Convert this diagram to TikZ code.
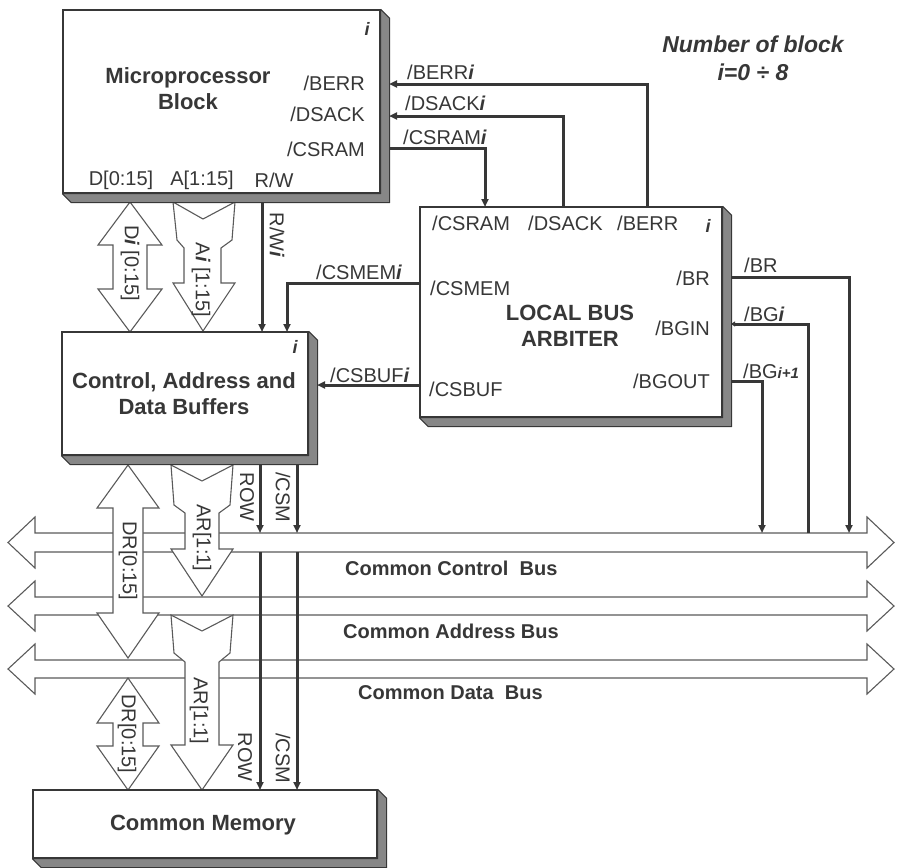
\documentclass[tikz,border=0pt]{standalone}
\usepackage{fontspec}
\setmainfont{Liberation Sans}
\usetikzlibrary{arrows.meta, calc}
\definecolor{cInk}{RGB}{55,55,55}
\definecolor{cBus}{RGB}{90,90,90}
\definecolor{cSlab}{RGB}{135,135,135}
\tikzset{
	blk/.style    ={rectangle, draw=cInk, line width=1.4pt, fill=white, inner sep=0pt},
	slab/.style   ={fill=cSlab, draw=cInk, line width=1pt, line join=bevel},
	title/.style  ={font=\fontsize{22}{26}\selectfont\bfseries, text=cInk, align=center, inner sep=0pt},
	pin/.style    ={font=\fontsize{20}{22}\selectfont, text=cInk, inner sep=0pt},
	idx/.style    ={font=\fontsize{18}{18}\selectfont\bfseries\itshape, text=cInk, inner sep=0pt},
	buslbl/.style ={font=\fontsize{20}{22}\selectfont\bfseries, text=cInk, anchor=west, inner sep=0pt},
	sig/.style    ={draw=cInk, line width=3pt, -{Triangle[length=8pt,width=7pt]}},
	sigin/.style  ={draw=cInk, line width=3pt, -{Triangle[length=4pt,width=5pt]}},
	hollow/.style ={draw=cBus, line width=1.1pt, fill=white, line join=miter},
}
\newcommand{\ii}{{\bfseries\itshape i}}

\begin{document}
\begin{tikzpicture}[x=1pt, y=-1pt]
	\useasboundingbox (0,0) rectangle (898,868);
	% common buses
	\draw[hollow] (8,542.5) -- (35,517) -- (35,533) -- (867,533) -- (867,517) -- (894,542.5) -- (867,568) -- (867,552) -- (35,552) -- (35,568) -- cycle;
	\draw[hollow] (8,606) -- (35,581) -- (35,597) -- (867,597) -- (867,581) -- (894,606) -- (867,631) -- (867,615) -- (35,615) -- (35,631) -- cycle;
	\draw[hollow] (8,669) -- (35,644) -- (35,660) -- (867,660) -- (867,644) -- (894,669) -- (867,694) -- (867,678) -- (35,678) -- (35,694) -- cycle;
	\node[buslbl] (lblctl) at (345,568) {Common Control\ \ Bus};
	\node[buslbl] (lbladr) at (343,631) {Common Address Bus};
	\node[buslbl] (lbldat) at (358,693) {Common Data\ \ Bus};
	% data and address arrows
	\draw[hollow] (130,202) -- (162,245) -- (147,245) -- (147,289) -- (162,289) -- (130,332) -- (98,289) -- (113,289) -- (113,245) -- (98,245) -- cycle;
	\draw[hollow] (173,202) -- (203,219) -- (235,202) -- (232,240) -- (221,248) -- (221,283) -- (235,283) -- (203,331) -- (173,283) -- (184,283) -- (184,248) -- (177,240) -- cycle;
	\draw[hollow] (128,465) -- (159,508) -- (143,508) -- (143,613) -- (159,613) -- (128,658) -- (97,613) -- (113,613) -- (113,508) -- (97,508) -- cycle;
	\draw[hollow] (171,465) -- (202,481) -- (233,465) -- (230,505) -- (219,513) -- (219,549) -- (233,549) -- (202,596) -- (171,549) -- (185,549) -- (185,513) -- (174,505) -- cycle;
	\draw[hollow] (128,678) -- (159,723) -- (143,723) -- (143,746) -- (159,746) -- (128,790) -- (97,746) -- (113,746) -- (113,723) -- (97,723) -- cycle;
	\draw[hollow] (171,615) -- (202,631) -- (233,615) -- (230,653) -- (219,662) -- (219,745) -- (233,745) -- (202,790) -- (171,745) -- (185,745) -- (185,662) -- (174,653) -- cycle;
	\node[pin, rotate=-90] (lbld) at (130,263) {D\ii\ [0:15]};
	\node[pin, rotate=-90] (lbla) at (201,280) {A\ii\ [1:15]};
	\node[pin, rotate=-90] (lbldr) at (128,561) {DR[0:15]};
	\node[pin, rotate=-90] (lblar) at (202,538) {AR[1:1]};
	\node[pin, rotate=-90] (lbldrm) at (127,734) {DR[0:15]};
	\node[pin, rotate=-90] (lblarm) at (199,711) {AR[1:1]};
	% blocks
	\node[blk, minimum width=317pt, minimum height=183pt] (mpu) at (221.5,101.5) {};
	\node[blk, minimum width=246pt, minimum height=123pt] (buf) at (185,393.5) {};
	\node[blk, minimum width=302pt, minimum height=210pt] (arb) at (571,312) {};
	\node[blk, minimum width=344pt, minimum height=68pt] (mem) at (205,824) {};
	\foreach \b in {mpu, buf, arb, mem}
		\draw[slab] (\b.north east) -- ++(9,9) -- ($(\b.south east)+(9,9)$) -- ($(\b.south west)+(9,9)$) -- (\b.south west) -- (\b.south east) -- cycle;
	% microprocessor
	\node[title] (mputxt) at (188,89) {Microprocessor\\Block};
	\node[idx] (mpui) at (367,29) {i};
	\node[pin, anchor=east] (mpuberr) at (365,83) {/BERR};
	\node[pin, anchor=east] (mpudsack) at (365,114) {/DSACK};
	\node[pin, anchor=east] (mpucsram) at (365,149) {/CSRAM};
	\node[pin] (mpud) at (121,180) {D[0:15]};
	\node[pin] (mpua) at (202,180) {A[1:15]};
	\node[pin] (mpurw) at (274,180) {R/W};
	% buffers
	\node[title] (buftxt) at (184,394) {Control, Address and\\Data Buffers};
	\node[idx] (bufi) at (295,347) {i};
	% arbiter
	\node[title] (arbtxt) at (570,326) {LOCAL BUS\\ARBITER};
	\node[idx] (arbi) at (708,226) {i};
	\node[pin, anchor=west] (arbcsram) at (432,223) {/CSRAM};
	\node[pin, anchor=west] (arbdsack) at (528,223) {/DSACK};
	\node[pin, anchor=west] (arbberr) at (617,223) {/BERR};
	\node[pin, anchor=west] (arbcsmem) at (430,288) {/CSMEM};
	\node[pin, anchor=west] (arbcsbuf) at (429,389) {/CSBUF};
	\node[pin, anchor=east] (arbbr) at (710,278) {/BR};
	\node[pin, anchor=east] (arbbgin) at (710,328) {/BGIN};
	\node[pin, anchor=east] (arbbgout) at (710,381) {/BGOUT};
	% memory
	\node[title] (memtxt) at (203,825) {Common Memory};
	% pins
	\coordinate (mpBERR) at (389,84);
	\coordinate (mpDSACK) at (389,116);
	\coordinate (mpCSRAM) at (389,148);
	\coordinate (arBERR) at (647,207);
	\coordinate (arDSACK) at (563,207);
	\coordinate (arCSRAM) at (485,207);
	\coordinate (mpRW) at (262,202);
	\coordinate (bfRW) at (262,332);
	\coordinate (arCSMEM) at (420,283);
	\coordinate (bfCSMEM) at (287,332);
	\coordinate (arCSBUF) at (420,385);
	\coordinate (bfCSBUF) at (317,385);
	\coordinate (arBR) at (731,277);
	\coordinate (arBGIN) at (731,324);
	\coordinate (arBGOUT) at (731,381);
	\coordinate (busBR) at (849,533);
	\coordinate (busBG) at (808,533);
	\coordinate (busBGn) at (762,533);
	\coordinate (bfROW) at (260,464);
	\coordinate (bfCSM) at (297,464);
	\coordinate (busROW) at (260,533);
	\coordinate (busCSM) at (297,533);
	\coordinate (busROWm) at (260,552);
	\coordinate (busCSMm) at (297,552);
	\coordinate (mmROW) at (260,790);
	\coordinate (mmCSM) at (297,790);
	% control signals
	\draw[sig] (arBERR) |- (mpBERR);
	\draw[sig] (arDSACK) |- (mpDSACK);
	\draw[sig] (mpCSRAM) -| (arCSRAM);
	\draw[sig] (mpRW) -- (bfRW);
	\draw[sig] (arCSMEM) -| (bfCSMEM);
	\draw[sig] (arCSBUF) -- (bfCSBUF);
	\draw[sig] (arBR) -| (busBR);
	\draw[sigin] (busBG) |- (arBGIN);
	\draw[sig] (arBGOUT) -| (busBGn);
	\draw[sig] (bfROW) -- (busROW);
	\draw[sig] (bfCSM) -- (busCSM);
	\draw[sig] (busROWm) -- (mmROW);
	\draw[sig] (busCSMm) -- (mmCSM);
	\node[pin, anchor=west] (lblberr) at (407,72) {/BERR\ii};
	\node[pin, anchor=west] (lbldsack) at (405,103) {/DSACK\ii};
	\node[pin, anchor=west] (lblcsram) at (403,137) {/CSRAM\ii};
	\node[pin, rotate=-90] (lblrw) at (277,235) {R/W\ii};
	\node[pin, anchor=west] (lblcsmem) at (316,272) {/CSMEM\ii};
	\node[pin, anchor=west] (lblcsbuf) at (330,375) {/CSBUF\ii};
	\node[pin, anchor=west] (lblbr) at (744,265) {/BR};
	\node[pin, anchor=west] (lblbg) at (744,314) {/BG\ii};
	\node[pin, anchor=west] (lblbgn) at (743,371) {/BG{\fontsize{15}{15}\selectfont\bfseries\itshape i+1}};
	\node[pin, rotate=-90] (lblrow) at (247,497) {ROW};
	\node[pin, rotate=-90] (lblcsm) at (283,497) {/CSM};
	\node[pin, rotate=-90] (lblrowm) at (245,757) {ROW};
	\node[pin, rotate=-90] (lblcsmm) at (283,758) {/CSM};
	% block count note
	\node[font=\fontsize{23}{28}\selectfont\bfseries\itshape, text=cInk, align=center] (note) at (753,58) {Number of block\\i=0 ÷ 8};
\end{tikzpicture}
\end{document}
